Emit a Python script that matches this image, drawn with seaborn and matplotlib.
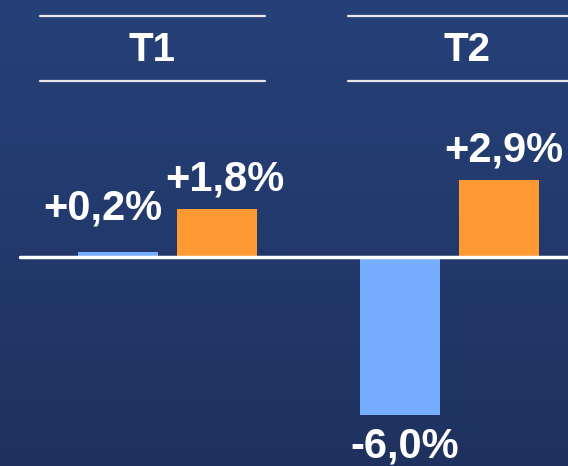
import numpy as np
import pandas as pd
import seaborn as sns
import matplotlib.pyplot as plt
from matplotlib.lines import Line2D

sns.set_theme(style="white")
plt.rcParams['font.family'] = ['Liberation Sans', 'DejaVu Sans']

# data
periods = ['T1', 'T2']
series = ['A', 'B']
values_a = [0.2, -6.0]
values_b = [1.8, 2.9]
labels_a = ['+0,2%', '-6,0%']
labels_b = ['+1,8%', '+2,9%']

df = pd.DataFrame({
    'period': periods * 2,
    'series': [series[0]] * 2 + [series[1]] * 2,
    'value': values_a + values_b,
    'label': labels_a + labels_b,
})

W, H = 568, 466
fig = plt.figure(figsize=(W / 100, H / 100), dpi=100)

# background gradient
bg = fig.add_axes([0, 0, 1, 1])
grad = np.linspace(0, 1, 256).reshape(-1, 1)
top = np.array([38, 65, 121]) / 255
bot = np.array([31, 50, 95]) / 255
img = top[None, None, :] * (1 - grad[:, :, None]) + bot[None, None, :] * grad[:, :, None]
bg.imshow(img, aspect='auto', extent=[0, 1, 0, 1])
bg.axis('off')

ax = fig.add_axes([0, 0, 1, 1])
ax.patch.set_alpha(0)
pal = {'A': '#76adff', 'B': '#ff9a33'}
sns.barplot(data=df, x='period', y='value', hue='series', palette=pal,
            width=0.7, gap=0.19, saturation=1, legend=False, ax=ax,
            linewidth=0, edgecolor='none')

# axis limits set so baseline sits at ~257 px from top
px_x = 282
ax.set_xlim(-167.5 / px_x, 1 + (W - 449.5) / px_x)
px_y = 26.4
ax.set_ylim(-(H - 257) / px_y, 257 / px_y)
ax.axis('off')

# baseline
ax.axhline(0, xmin=20 / W, xmax=1, color='white', lw=2.5)

# value labels
dx = {'+0,2%': -15, '+1,8%': 8, '+2,9%': 5, '-6,0%': 5}
for bars, lab_list in zip(ax.containers, [labels_a, labels_b]):
    for bar, lab in zip(bars, lab_list):
        x = bar.get_x() + bar.get_width() / 2
        v = bar.get_height()
        if v >= 0:
            off = 43 if abs(v) < 0.5 else 30
        else:
            off = -31
        ax.annotate(lab, (x, v), xytext=(dx[lab] / 1.389, off / 1.389),
                    textcoords='offset points', ha='center', va='center',
                    color='white', fontsize=30, fontweight='bold')

# period headers with lines
for name, x0, x1, xc in [('T1', 40, 265, 152), ('T2', 348, 580, 467)]:
    for yy in (16, 81):
        fig.add_artist(Line2D([x0 / W, x1 / W], [1 - yy / H, 1 - yy / H],
                              color='#e6e6e6', lw=1.6))
    fig.text(xc / W, 1 - 50 / H, name, ha='center', va='center',
             color='white', fontsize=29, fontweight='bold')

fig.savefig('out.png', dpi=100)
